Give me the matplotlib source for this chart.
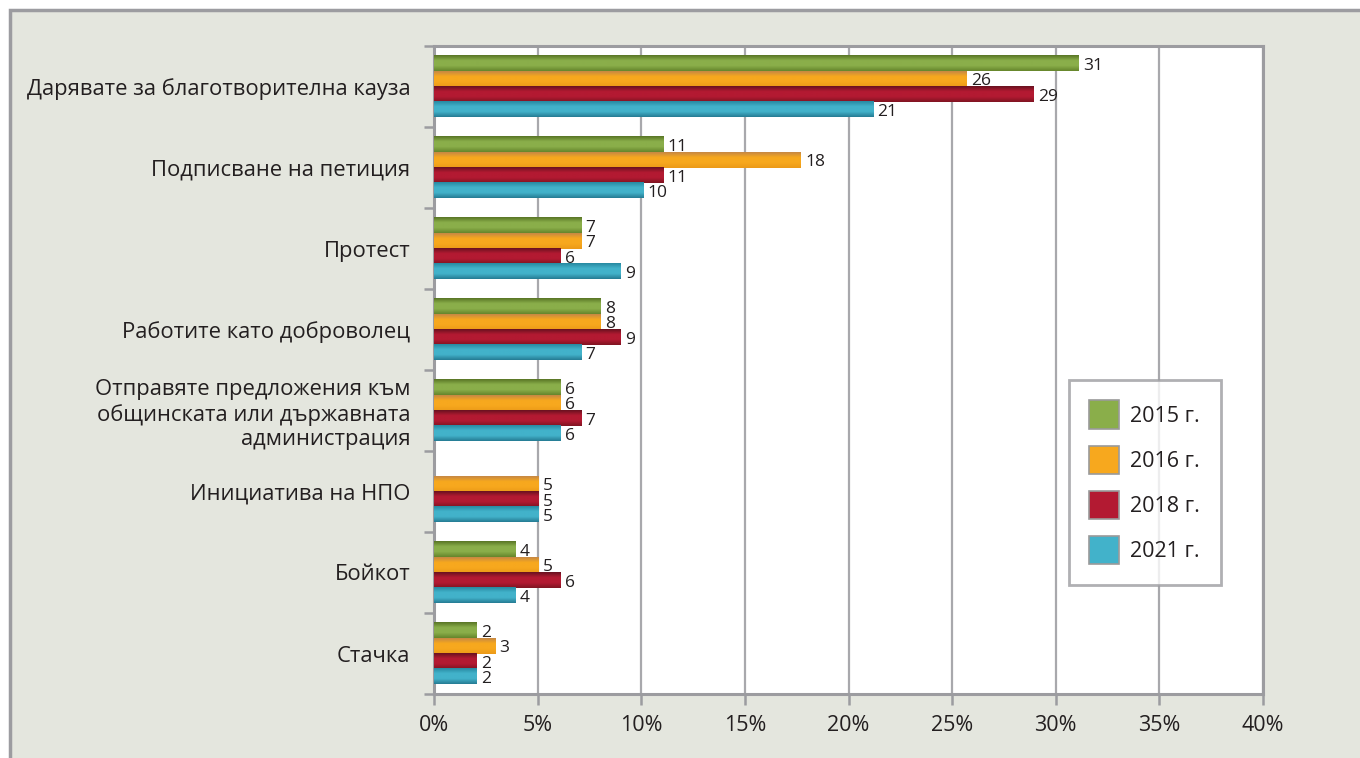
import numpy as np
import matplotlib.pyplot as plt
from matplotlib.colors import LinearSegmentedColormap
from matplotlib.patches import Rectangle, Patch

plt.rcParams["font.family"] = ["Open Sans", "DejaVu Sans"]

# данни (процент), стойностите са отчетени от дължината на лентите
categories = [
    "Дарявате за благотворителна кауза",
    "Подписване на петиция",
    "Протест",
    "Работите като доброволец",
    "Отправяте предложения към\nобщинската или държавната\nадминистрация",
    "Инициатива на НПО",
    "Бойкот",
    "Стачка",
]
years = ["2015 г.", "2016 г.", "2018 г.", "2021 г."]
v2015 = [31.1, 11.05, 7.1, 8.05, 6.1, np.nan, 3.95, 2.05]
v2016 = [25.7, 17.7, 7.1, 8.05, 6.1, 5.05, 5.05, 2.95]
v2018 = [28.95, 11.05, 6.1, 9.0, 7.1, 5.05, 6.1, 2.05]
v2021 = [21.2, 10.1, 9.0, 7.1, 6.1, 5.05, 3.95, 2.05]
series = [v2015, v2016, v2018, v2021]

# цветове: горе, среда, долу (градиент)
grads = [
    ("#597626", "#8aae4a", "#66862c"),
    ("#c68844", "#f7a81e", "#ec9a18"),
    ("#6a1220", "#b31a32", "#801422"),
    ("#288aa2", "#42b2ca", "#267c94"),
]
grey = "#9c9ca0"
txt = "#231f20"

fig = plt.figure(figsize=(13.6, 7.58), dpi=100)
fig.patch.set_facecolor("white")
fig.patches.append(
    Rectangle((10 / 1360, -0.05), 1.1, 1.05 - 10.5 / 758, transform=fig.transFigure,
              facecolor="#e4e6de", edgecolor=grey, linewidth=2.5, zorder=-10)
)

ax = fig.add_axes([434 / 1360, 64 / 758, 829 / 1360, 648 / 758])
ax.set_facecolor("white")

n = len(categories)
bh = 0.19
grad = np.linspace(0, 1, 40).reshape(-1, 1)
for j, (vals, cols) in enumerate(zip(series, grads)):
    cmap = LinearSegmentedColormap.from_list(f"g{j}", [cols[0], cols[1], cols[1], cols[2]])
    for i, v in enumerate(vals):
        if np.isnan(v):
            continue
        y0 = i + 0.5 - 2 * bh + j * bh
        y1 = y0 + bh
        ax.imshow(grad, extent=(0, v, y1, y0), origin="upper", aspect="auto",
                  cmap=cmap, zorder=3, interpolation="bilinear")
        ax.text(v + 0.2, (y0 + y1) / 2 + 0.03, f"{v:.0f}", fontsize=12.5,
                va="center", ha="left", color=txt, zorder=4)

ax.set_xlim(0, 40)
ax.set_ylim(n, 0)
ax.set_xticks(np.arange(0, 41, 5))
ax.set_xticklabels([f"{t}%" for t in range(0, 41, 5)], fontsize=15.5, color=txt)
ax.set_yticks(np.arange(0, n + 1))
ax.set_yticklabels([])
ax.set_yticks(np.arange(n) + 0.5, minor=True)
ax.set_yticklabels(categories, minor=True, fontsize=15.8, color=txt)
ax.tick_params(axis="y", which="minor", length=0, pad=17)
ax.tick_params(axis="y", which="major", length=7, width=1.8, color=grey)
ax.tick_params(axis="x", length=8, width=1.8, color=grey, pad=7)
ax.grid(axis="x", color="#a8a8ac", linewidth=1.6, zorder=1)
ax.set_axisbelow(True)
for s in ax.spines.values():
    s.set_color(grey)
    s.set_linewidth(2.2)

handles = [Patch(facecolor=c[1], edgecolor="#9a9a9a", linewidth=1.2) for c in grads]
leg = ax.legend(handles, years, loc="upper left", bbox_to_anchor=(0.766, 0.4846),
                fontsize=15.5, frameon=True, fancybox=False, handlelength=1.35,
                handleheight=1.63, labelspacing=0.8, handletextpad=0.55,
                borderpad=0.95, borderaxespad=0)
leg.get_frame().set_edgecolor(grey)
leg.get_frame().set_linewidth(2)
for t in leg.get_texts():
    t.set_color(txt)

plt.savefig("out.png", dpi=100)
